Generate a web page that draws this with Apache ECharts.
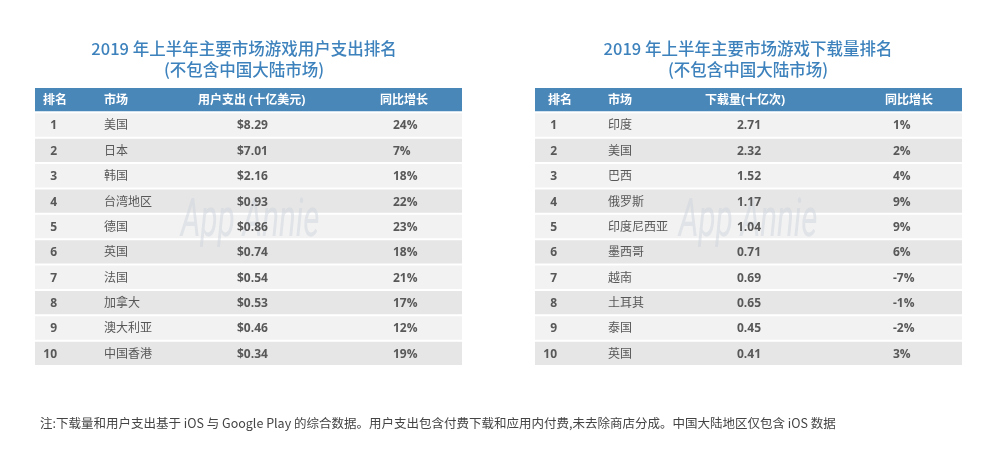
<!DOCTYPE html>
<html><head><meta charset="utf-8">
<script src="https://cdn.jsdelivr.net/npm/echarts@6/dist/echarts.min.js"></script>
<style>html,body{margin:0;padding:0;background:#fff}#c{width:1000px;height:467px}</style>
</head><body><div id="c"></div>
<script>
// ---- data ----
const rowLabels = ['表头','1','2','3','4','5','6','7','8','9','10'];
const ranks = [1,2,3,4,5,6,7,8,9,10];
const spendHeaders = ['排名','市场','用户支出 (十亿美元)','同比增长'];
const spendMarkets = ['美国','日本','韩国','台湾地区','德国','英国','法国','加拿大','澳大利亚','中国香港'];
const spendValues = [8.29,7.01,2.16,0.93,0.86,0.74,0.54,0.53,0.46,0.34];
const spendGrowth = [24,7,18,22,23,18,21,17,12,19];
const dlHeaders = ['排名','市场','下载量(十亿次)','同比增长'];
const dlMarkets = ['印度','美国','巴西','俄罗斯','印度尼西亚','墨西哥','越南','土耳其','泰国','英国'];
const dlValues = [2.71,2.32,1.52,1.17,1.04,0.71,0.69,0.65,0.45,0.41];
const dlGrowth = [1,2,4,9,9,6,-7,-1,-2,3];
const titles = ['2019 年上半年主要市场游戏用户支出排名\n(不包含中国大陆市场)', '2019 年上半年主要市场游戏下载量排名\n(不包含中国大陆市场)'];
const footnote = '注:下载量和用户支出基于 iOS 与 Google Play 的综合数据。用户支出包含付费下载和应用内付费,未去除商店分成。中国大陆地区仅包含 iOS 数据';

// ---- layout (styles, not data) ----
const TABLE_W = 427;
const FONT = '"Open Sans","Noto Sans CJK SC",sans-serif';
const layouts = [
  {headX:[8,69,163,345], rankX:22, marketX:69, valueX:202, growthX:358},
  {headX:[13,73,170,350], rankX:22, marketX:73, valueX:202, growthX:358}
];

function buildCells(t, headers, markets, values, growth, fmt){
  const L = layouts[t];
  const cells = [];
  headers.forEach((h,i)=>cells.push({x:L.headX[i], row:0, text:h, kind:'head', align:'left'}));
  ranks.forEach((r,i)=>{
    const row = i+1;
    cells.push({x:L.rankX, row, text:String(r), kind:'bold', align:'right'});
    cells.push({x:L.marketX, row, text:markets[i], kind:'normal', align:'left'});
    cells.push({x:L.valueX, row, text:fmt(values[i]), kind:'bold', align:'left'});
    cells.push({x:L.growthX, row, text:growth[i]+'%', kind:'bold', align:'left'});
  });
  return cells;
}
const cellSets = [
  buildCells(0, spendHeaders, spendMarkets, spendValues, spendGrowth, v=>'$'+v.toFixed(2)),
  buildCells(1, dlHeaders, dlMarkets, dlValues, dlGrowth, v=>v.toFixed(2))
];

function bgItem(params, api){
  const row = api.value(1);
  const p0 = api.coord([0,row]);
  const p1 = api.coord([TABLE_W,row]);
  const h = api.size([0,1])[1];
  return {type:'rect', shape:{x:p0[0], y:p0[1]-h/2, width:p1[0]-p0[0], height:h-2},
    style:{fill: row===0 ? '#4a87b9' : (row%2 ? '#f2f2f2' : '#e6e6e6')}};
}
function textItemFor(t){
  return function(params, api){
    const c = cellSets[t][params.dataIndex];
    const p = api.coord([c.x, c.row]);
    return {type:'text', x:p[0], y:p[1], style:{
      text:c.text, align:c.align, verticalAlign:'middle',
      fill: c.kind==='head' ? '#ffffff' : '#585858',
      font: (c.kind==='normal' ? 'normal ' : 'bold ') + '12px ' + FONT
    }};
  };
}

const grids = [
  {left:35, top:88, width:TABLE_W, height:279},
  {left:535, top:88, width:TABLE_W, height:279}
];
const option = {
  animation:false,
  backgroundColor:'#ffffff',
  title: titles.map((t,i)=>({text:t, left: i===0?239:743, top:33, textAlign:'center',
    textStyle:{fontSize:16.5, fontWeight:500, color:'#3d82bc', lineHeight:21, fontFamily:'"Noto Sans CJK SC",sans-serif'}})),
  grid: grids,
  xAxis: grids.map((g,i)=>({type:'value', gridIndex:i, min:0, max:TABLE_W, show:false})),
  yAxis: grids.map((g,i)=>({type:'category', gridIndex:i, data:rowLabels, inverse:true, show:false})),
  graphic: [
    {type:'text', x:250, y:222, z:5, scaleX:0.58, style:{text:'App Annie', font:'italic 400 54px Roboto', fill:'rgba(205,212,220,0.5)', align:'center', verticalAlign:'middle'}},
    {type:'text', x:748, y:222, z:5, scaleX:0.58, style:{text:'App Annie', font:'italic 400 54px Roboto', fill:'rgba(205,212,220,0.5)', align:'center', verticalAlign:'middle'}},
    {type:'text', left:40, top:417, style:{text:footnote, font:'12.5px "Noto Sans CJK SC",sans-serif', fill:'#444444'}}
  ],
  series: [0,1].flatMap(i=>[
    {type:'custom', xAxisIndex:i, yAxisIndex:i, z:1, renderItem:bgItem, data:rowLabels.map((r,k)=>[0,k]), silent:true},
    {type:'custom', xAxisIndex:i, yAxisIndex:i, z:10, renderItem:textItemFor(i), data:cellSets[i].map(c=>[c.x,c.row]), silent:true}
  ])
};
const chart = echarts.init(document.getElementById('c'));
chart.setOption(option);
</script>
</body></html>
